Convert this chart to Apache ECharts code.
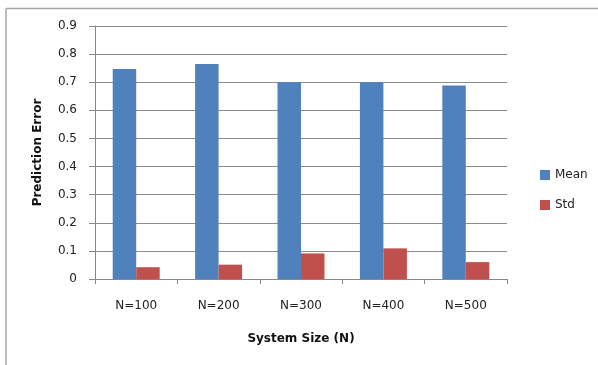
<!DOCTYPE html>
<html>
<head>
<meta charset="utf-8">
<script src="https://cdn.jsdelivr.net/npm/echarts@6/dist/echarts.min.js"></script>
<style>
  html, body { margin: 0; padding: 0; background: #fff; }
  #chart { width: 598px; height: 365px; }
</style>
</head>
<body>
<div id="chart"></div>
<script>
// System sizes and the prediction error statistics for each
const categories = ['N=100', 'N=200', 'N=300', 'N=400', 'N=500'];
const meanValues = [0.747, 0.765, 0.700, 0.700, 0.688];
const stdValues = [0.042, 0.051, 0.091, 0.109, 0.060];
const yTicks = { min: 0, max: 0.9, interval: 0.1 };

const FONT = 'DejaVu Sans';
const chart = echarts.init(document.getElementById('chart'), null, { renderer: 'canvas' });

chart.setOption({
  backgroundColor: '#ffffff',
  animation: false,
  textStyle: { fontFamily: FONT },
  grid: { left: 95, top: 26, right: 91, bottom: 86, containLabel: false },
  legend: {
    orient: 'vertical',
    left: 535,
    top: 164,
    itemWidth: 10,
    itemHeight: 10,
    itemGap: 18,
    icon: 'rect',
    textStyle: { fontFamily: FONT, fontSize: 12, color: '#222' },
    data: ['Mean', 'Std']
  },
  xAxis: {
    type: 'category',
    data: categories,
    name: 'System Size (N)',
    nameLocation: 'middle',
    nameGap: 54,
    nameTextStyle: { fontFamily: FONT, fontSize: 12, fontWeight: 'bold', color: '#111' },
    axisLine: { lineStyle: { color: '#888', width: 1 } },
    axisTick: { show: true, length: 5, alignWithLabel: false, lineStyle: { color: '#888' } },
    axisLabel: { margin: 21, fontFamily: FONT, fontSize: 12, color: '#222' },
    splitLine: { show: false }
  },
  yAxis: {
    type: 'value',
    min: yTicks.min,
    max: yTicks.max,
    interval: yTicks.interval,
    name: 'Prediction Error',
    nameLocation: 'middle',
    nameGap: 51,
    nameRotate: 90,
    nameTextStyle: { fontFamily: FONT, fontSize: 12, fontWeight: 'bold', color: '#111' },
    axisLine: { show: true, lineStyle: { color: '#888', width: 1 } },
    axisTick: { show: true, length: 6, inside: false, lineStyle: { color: '#888' } },
    axisLabel: {
      margin: 18,
      fontFamily: FONT,
      fontSize: 12,
      color: '#222',
      formatter: v => (Math.round(v * 10) / 10).toString()
    },
    splitLine: { show: true, lineStyle: { color: '#8c8c8c', width: 1 } }
  },
  series: [
    {
      name: 'Mean',
      type: 'bar',
      data: meanValues,
      barGap: '0%',
      barCategoryGap: '43%',
      itemStyle: { color: '#4F81BD' }
    },
    {
      name: 'Std',
      type: 'bar',
      data: stdValues,
      barGap: '0%',
      barCategoryGap: '43%',
      itemStyle: { color: '#C0504D' }
    }
  ],
  graphic: [
    // outer chart frame (top and left edges)
    { type: 'line', shape: { x1: 6, y1: 8.5, x2: 598, y2: 8.5 }, style: { stroke: '#a6a6a6', lineWidth: 1.5 }, silent: true },
    { type: 'line', shape: { x1: 6, y1: 8.5, x2: 6, y2: 365 }, style: { stroke: '#a6a6a6', lineWidth: 1.5 }, silent: true }
  ]
});
</script>
</body>
</html>
